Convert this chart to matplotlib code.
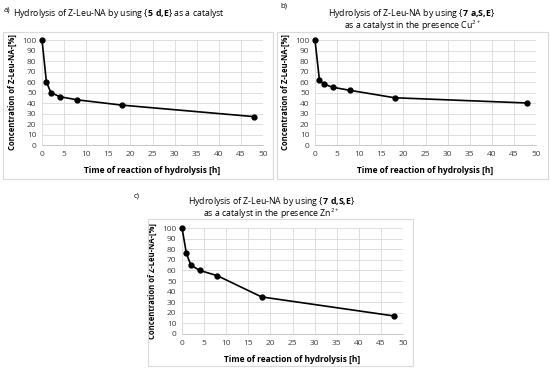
import matplotlib
matplotlib.use('Agg')
import matplotlib.pyplot as plt
from matplotlib.patches import Rectangle

plt.rcParams['font.family'] = ['Open Sans', 'DejaVu Sans']
plt.rcParams['mathtext.fontset'] = 'custom'
plt.rcParams['mathtext.rm'] = 'Open Sans'
plt.rcParams['mathtext.bf'] = 'Open Sans:bold'

time_h = [0, 1, 2, 4, 8, 18, 48]
conc_a = [100, 60, 50, 46, 43, 38, 27]
conc_b = [100, 62, 58, 55, 52, 45, 40]
conc_c = [100, 76, 65, 60, 55, 35, 17]

W, H = 550, 371
fig = plt.figure(figsize=(W / 100, H / 100), dpi=100)


def px_axes(x0, x1, y0, y1):
    # pixel box (top-left origin) -> figure fraction
    return fig.add_axes([x0 / W, 1 - y1 / H, (x1 - x0) / W, (y1 - y0) / H])


def box(x0, x1, y0, y1):
    fig.patches.append(Rectangle((x0 / W, 1 - y1 / H), (x1 - x0) / W, (y1 - y0) / H,
                                 transform=fig.transFigure, fill=False,
                                 edgecolor='#d9d9d9', linewidth=0.8))


def panel(ax, y):
    ax.plot(time_h, y, color='black', linewidth=1.2, marker='o', markersize=3.5,
            zorder=3, clip_on=False)
    ax.set_xlim(0, 50)
    ax.set_ylim(0, 100)
    ax.set_xticks(range(0, 51, 5))
    ax.set_yticks(range(0, 101, 10))
    ax.grid(True, color='#d9d9d9', linewidth=0.6)
    for s in ['top', 'right', 'left']:
        ax.spines[s].set_visible(False)
    ax.spines['bottom'].set_color('#bfbfbf')
    ax.spines['bottom'].set_linewidth(0.6)
    ax.tick_params(length=0, labelsize=6, colors='#404040', pad=4)
    ax.set_ylabel('Concentration of Z-Leu-NA-[%]', fontsize=5.5, fontweight='bold', labelpad=4)
    ax.set_xlabel('Time of reaction of hydrolysis [h]', fontsize=6, fontweight='bold', labelpad=6)


box(3, 273, 32, 179)
box(277, 548, 32, 179)
box(148, 413, 219, 366)

ax_a = px_axes(42, 263, 40, 145)
panel(ax_a, conc_a)
ax_b = px_axes(315, 536, 40, 145)
panel(ax_b, conc_b)
ax_c = px_axes(182, 403, 228, 334)
panel(ax_c, conc_c)

fs = 6.3
fig.text(4 / W, 1 - 10 / H, 'a)', fontsize=5.5, va='center')
fig.text(280 / W, 1 - 6 / H, 'b)', fontsize=5.5, va='center')
fig.text(134 / W, 1 - 196 / H, 'c)', fontsize=5.5, va='center')

fig.text(119 / W, 1 - 14 / H, r'Hydrolysis of Z-Leu-NA by using {$\mathbf{5\ d{,}E}$} as a catalyst',
         fontsize=fs, ha='center', va='center')
fig.text(412 / W, 1 - 13 / H, r'Hydrolysis of Z-Leu-NA by using {$\mathbf{7\ a{,}S{,}E}$}',
         fontsize=fs, ha='center', va='center')
fig.text(413 / W, 1 - 26 / H, r'as a catalyst in the presence Cu$^{2+}$',
         fontsize=fs, ha='center', va='center')
fig.text(272 / W, 1 - 201 / H, r'Hydrolysis of Z-Leu-NA by using {$\mathbf{7\ d{,}S{,}E}$}',
         fontsize=fs, ha='center', va='center')
fig.text(272 / W, 1 - 214 / H, r'as a catalyst in the presence Zn$^{2+}$',
         fontsize=fs, ha='center', va='center')

fig.savefig('out.png', dpi=100)
